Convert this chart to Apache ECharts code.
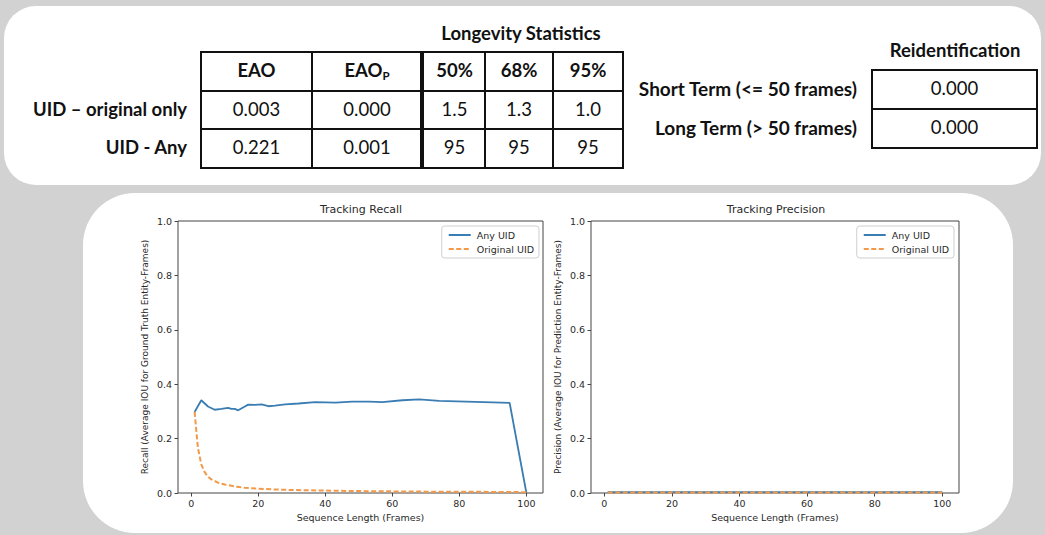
<!DOCTYPE html>
<html>
<head>
<meta charset="utf-8">
<script src="https://cdn.jsdelivr.net/npm/echarts@6/dist/echarts.min.js"></script>
<style>
  html, body { margin:0; padding:0; }
  body { width:1045px; height:535px; background:#d3d2d3; position:relative; overflow:hidden; font-family: Lato, "Open Sans", sans-serif; color:#111; }
  .panel { position:absolute; background:#fff; }
  .ln { position:absolute; background:#111; }
  .txt { position:absolute; white-space:nowrap; line-height:1; }
  #chart { position:absolute; left:0; top:0; width:1045px; height:535px; }
</style>
</head>
<body>
<div class="panel" style="left:4px;top:6px;width:1037px;height:179px;border-radius:32px;"></div>
<div class="panel" style="left:83px;top:193px;width:930px;height:340px;border-radius:52px;"></div>
<div id="tables"></div>
<div id="chart"></div>
<script>
// ---------------- data ----------------
const longevityTitle = 'Longevity Statistics';
const longevityHeaders = ['EAO', 'EAO_P', '50%', '68%', '95%'];
const longevityRowLabels = ['UID – original only', 'UID - Any'];
const longevityRow1 = ['0.003', '0.000', '1.5', '1.3', '1.0'];
const longevityRow2 = ['0.221', '0.001', '95', '95', '95'];

const reidTitle = 'Reidentification';
const reidLabels = ['Short Term (<= 50 frames)', 'Long Term (> 50 frames)'];
const reidValues = ['0.000', '0.000'];

const seriesNames = ['Any UID', 'Original UID'];

// Tracking Recall
const recallAnyX = [1, 3, 5, 7, 9, 11, 12, 13, 14, 16, 17, 19, 21, 23, 25, 28, 32, 37, 43, 48, 53, 57, 63, 68, 74, 82, 90, 95, 100];
const recallAnyY = [0.298, 0.341, 0.318, 0.306, 0.309, 0.313, 0.309, 0.309, 0.304, 0.318, 0.325, 0.324, 0.326, 0.319, 0.321, 0.326, 0.329, 0.334, 0.332, 0.336, 0.336, 0.334, 0.341, 0.344, 0.339, 0.336, 0.333, 0.331, 0.0];
const recallOrigX = [1, 2, 3, 4, 5, 6, 8, 10, 13, 16, 20, 25, 30, 40, 50, 60, 70, 80, 90, 100];
const recallOrigY = [0.298, 0.165, 0.105, 0.077, 0.060, 0.050, 0.038, 0.031, 0.024, 0.019, 0.016, 0.013, 0.011, 0.009, 0.007, 0.006, 0.005, 0.005, 0.004, 0.003];

// Tracking Precision
const precAnyX = [1, 20, 40, 60, 80, 100];
const precAnyY = [0.003, 0.003, 0.003, 0.003, 0.003, 0.003];
const precOrigX = [1, 20, 40, 60, 80, 100];
const precOrigY = [0.002, 0.002, 0.002, 0.002, 0.002, 0.002];

const xTicks = [0, 20, 40, 60, 80, 100];

// ---------------- tables (HTML) ----------------
(function buildTables() {
  const root = document.getElementById('tables');
  function line(x, y, w, h) {
    const d = document.createElement('div');
    d.className = 'ln';
    d.style.left = x + 'px'; d.style.top = y + 'px';
    d.style.width = w + 'px'; d.style.height = h + 'px';
    root.appendChild(d);
  }
  function text(str, cx, cy, align, opts) {
    const d = document.createElement('div');
    d.className = 'txt';
    if (str.indexOf('_') >= 0) {
      const p = str.split('_');
      d.innerHTML = p[0] + '<span style="font-size:0.62em;vertical-align:-0.25em">' + p[1] + '</span>';
    } else d.textContent = str;
    d.style.fontSize = opts.size + 'px';
    d.style.fontWeight = opts.bold ? '700' : '400';
    d.style.top = (cy - opts.size * 0.55) + 'px';
    if (align === 'center') { d.style.left = cx + 'px'; d.style.transform = 'translateX(-50%)'; }
    else { d.style.right = (1045 - cx) + 'px'; }
    root.appendChild(d);
  }
  // main table
  const X = [201, 312, 422, 485, 553, 623];
  const Y = [52, 91, 129, 168];
  for (let i = 0; i < X.length; i++) {
    const w = (i === 2) ? 4 : 2;
    line(X[i] - w / 2, Y[0] - 1, w, Y[3] - Y[0] + 2);
  }
  for (let j = 0; j < Y.length; j++) line(X[0] - 1, Y[j] - 1, X[5] - X[0] + 2, 2);
  text(longevityTitle, 521, 34, 'center', {size: 18.5, bold: true});
  const rows = [longevityHeaders, longevityRow1, longevityRow2];
  for (let r = 0; r < 3; r++) {
    for (let c = 0; c < 5; c++) {
      const cx = (X[c] + X[c + 1]) / 2 + (c === 2 ? 1 : 0);
      const cy = (Y[r] + Y[r + 1]) / 2;
      text(rows[r][c], cx, cy, 'center', {size: 18.5, bold: r === 0});
    }
  }
  for (let r = 0; r < 2; r++) {
    text(longevityRowLabels[r], 187, (Y[r + 1] + Y[r + 2]) / 2, 'right', {size: 18.5, bold: true});
  }
  // reidentification table
  const RX = [872, 1037];
  const RY = [70, 109, 148];
  line(RX[0] - 1, RY[0] - 1, 2, RY[2] - RY[0] + 2);
  line(RX[1] - 1, RY[0] - 1, 2, RY[2] - RY[0] + 2);
  for (let j = 0; j < RY.length; j++) line(RX[0] - 1, RY[j] - 1, RX[1] - RX[0] + 2, 2);
  text(reidTitle, 955, 51, 'center', {size: 18.5, bold: true});
  for (let r = 0; r < 2; r++) {
    const cy = (RY[r] + RY[r + 1]) / 2;
    text(reidLabels[r], 857, cy, 'right', {size: 19, bold: true});
    text(reidValues[r], (RX[0] + RX[1]) / 2, cy, 'center', {size: 18.5, bold: false});
  }
})();

// ---------------- charts ----------------
const zip = (xs, ys) => xs.map((x, i) => [x, ys[i]]);
const BLUE = '#3a7db3';
const ORANGE = '#f2994a';
const FONT = 'DejaVu Sans';
const TXT = '#2a2a2a';

function xAxis(gi) {
  return {
    type: 'value', gridIndex: gi, min: -3.95, max: 104.95,
    name: 'Sequence Length (Frames)', nameLocation: 'middle', nameGap: 19,
    nameTextStyle: {fontFamily: FONT, fontSize: 9.5, color: TXT},
    axisLine: {show: false, onZero: false},
    axisTick: {show: true, length: 3.5, lineStyle: {color: '#444'}, customValues: xTicks},
    axisLabel: {fontFamily: FONT, fontSize: 9.5, color: TXT, margin: 5, customValues: xTicks},
    splitLine: {show: false}
  };
}
function yAxis(gi, name) {
  return {
    type: 'value', gridIndex: gi, min: 0, max: 1, interval: 0.2,
    name: name, nameLocation: 'middle', nameGap: 29, nameRotate: 90,
    nameTextStyle: {fontFamily: FONT, fontSize: 9, color: TXT},
    axisLine: {show: false, onZero: false},
    axisTick: {show: true, length: 3.5, lineStyle: {color: '#444'}},
    axisLabel: {fontFamily: FONT, fontSize: 9.5, color: TXT, margin: 6, formatter: v => v.toFixed(1)},
    splitLine: {show: false}
  };
}
function lineSeries(name, xs, ys, gi, color, dashed) {
  return {
    type: 'line', name: name, xAxisIndex: gi, yAxisIndex: gi,
    data: zip(xs, ys), symbol: 'none', smooth: false, animation: false,
    lineStyle: {color: color, width: dashed ? 2 : 1.8, type: dashed ? [5, 2.5] : 'solid'},
    itemStyle: {color: color}, z: dashed ? 3 : 2
  };
}
function legend(right) {
  return {
    orient: 'vertical', right: right, top: 226, data: seriesNames,
    backgroundColor: '#fff', borderColor: '#cfcfcf', borderWidth: 1, borderRadius: 3,
    padding: [4, 5, 4, 6], itemGap: 4, itemWidth: 22, itemHeight: 9,
    itemStyle: {opacity: 0},
    textStyle: {fontFamily: FONT, fontSize: 9.5, color: TXT, padding: [0, 0, 0, 1]},
    selectedMode: false
  };
}

const chart = echarts.init(document.getElementById('chart'), null, {renderer: 'svg'});
chart.setOption({
  animation: false,
  backgroundColor: 'transparent',
  title: [
    {text: 'Tracking Recall', left: 361, top: 204, textAlign: 'center', padding: 0,
     textStyle: {fontFamily: FONT, fontSize: 11, fontWeight: 'normal', color: TXT}},
    {text: 'Tracking Precision', left: 776, top: 204, textAlign: 'center', padding: 0,
     textStyle: {fontFamily: FONT, fontSize: 11, fontWeight: 'normal', color: TXT}}
  ],
  grid: [
    {left: 178, top: 221, width: 365, height: 272, show: true, borderColor: '#444', borderWidth: 1, backgroundColor: 'transparent'},
    {left: 591, top: 221, width: 368, height: 272, show: true, borderColor: '#444', borderWidth: 1, backgroundColor: 'transparent'}
  ],
  xAxis: [xAxis(0), xAxis(1)],
  yAxis: [
    yAxis(0, 'Recall (Average IOU for Ground Truth Entity-Frames)'),
    yAxis(1, 'Precision (Average IOU for Prediction Entity-Frames)')
  ],
  legend: [legend(506), legend(91)],
  series: [
    lineSeries(seriesNames[0], recallAnyX, recallAnyY, 0, BLUE, false),
    lineSeries(seriesNames[1], recallOrigX, recallOrigY, 0, ORANGE, true),
    lineSeries(seriesNames[0], precAnyX, precAnyY, 1, BLUE, false),
    lineSeries(seriesNames[1], precOrigX, precOrigY, 1, ORANGE, true)
  ]
});
</script>
</body>
</html>
